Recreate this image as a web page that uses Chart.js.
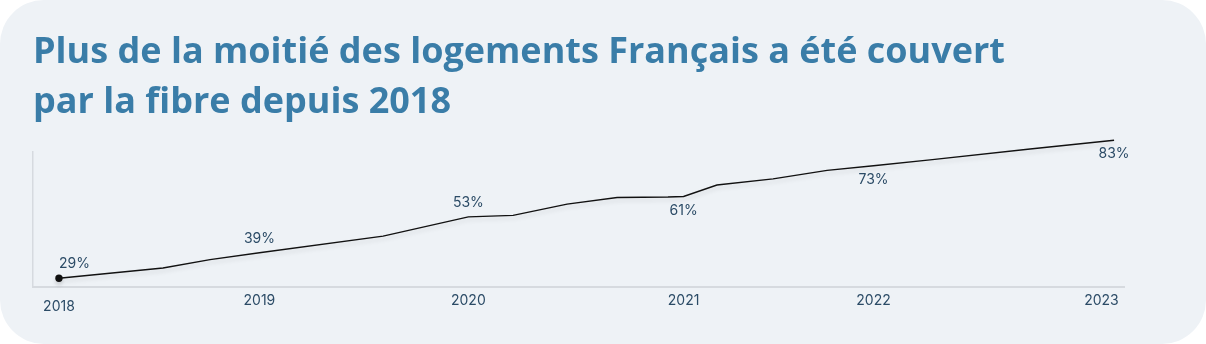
<!DOCTYPE html>
<html lang="fr">
<head>
<meta charset="utf-8">
<title>Couverture fibre</title>
<script src="https://cdn.jsdelivr.net/npm/chart.js@4/dist/chart.umd.min.js"></script>
<style>
  html, body { margin: 0; padding: 0; background: #ffffff; }
  #card {
    position: absolute;
    left: 0; top: 0;
    width: 1206px; height: 344px;
    background: #eef2f6;
    border-radius: 44px;
    overflow: hidden;
  }
  #fibreChart { display: block; }
</style>
</head>
<body>
<div id="card">
  <canvas id="fibreChart" width="1206" height="344"></canvas>
</div>
<script>
// share of French homes covered by fibre, as decimal years
const dates = [
  2018.0, 2018.493, 2018.716, 2018.95, 2019.536, 2019.94, 2020.152, 2020.408,
  2020.645, 2020.886, 2020.96, 2021.118, 2021.384, 2021.64, 2021.86,
  2022.128, 2022.602, 2023.0
];
const coverage = [
  29, 33, 36.3, 39, 45.5, 53, 53.6, 58,
  60.6, 60.8, 61, 65.5, 67.9, 71.2, 73,
  75.3, 79.6, 83
];

// year ticks on the bottom axis
const tickPositions = [2018.0, 2018.95, 2019.94, 2020.96, 2021.86, 2022.94];
const tickLabels = ["2018", "2019", "2020", "2021", "2022", "2023"];

// points that carry a percentage label
const labelDates = [2018.0, 2018.95, 2019.94, 2020.96, 2021.86, 2023.0];
const labelValues = [29, 39, 53, 61, 73, 83];

const titleLines = [
  "Plus de la moitié des logements Français a été couvert",
  "par la fibre depuis 2018",
];

const textColor = "#2b4b66";
const axisColor = "#d6dadf";

/**
 * soft shadow under the line
 */
const lineShadow = {
  id: "lineShadow",
  beforeDatasetsDraw: (chart) => {
    const ctx = chart.ctx;
    ctx.save();
    ctx.shadowColor = "rgba(0, 0, 0, 0.13)";
    ctx.shadowBlur = 4;
    ctx.shadowOffsetY = 3;
  },
  afterDatasetsDraw: (chart) => {
    chart.ctx.restore();
  },
};

/**
 * writes the percentage next to the labelled points,
 * above the line for the first half and below it afterwards
 */
const valueLabels = {
  id: "valueLabels",
  afterDatasetsDraw: (chart) => {
    const ctx = chart.ctx;
    const xScale = chart.scales.x;
    const yScale = chart.scales.y;
    ctx.save();
    ctx.font = "14px Inter";
    ctx.fillStyle = textColor;
    ctx.textBaseline = "middle";
    labelDates.forEach((d, i) => {
      const x = xScale.getPixelForValue(d);
      const y = yScale.getPixelForValue(labelValues[i]);
      const above = i < 3;
      ctx.textAlign = i === 0 ? "left" : "center";
      ctx.fillText(labelValues[i] + "%", x, above ? y - 14 : y + 14);
    });
    ctx.restore();
  },
};

const points = dates.map((d, i) => ({ x: d, y: coverage[i] }));

new Chart(document.getElementById("fibreChart"), {
  type: "line",
  data: {
    datasets: [
      {
        data: points,
        borderColor: "#111111",
        borderWidth: 1.4,
        backgroundColor: "#111111",
        tension: 0,
        clip: false,
        pointRadius: (c) =>
          c.dataIndex === 0 || c.dataIndex === points.length - 1 ? 3 : 0,
        pointHoverRadius: 0,
      },
    ],
  },
  options: {
    responsive: false,
    animation: false,
    events: [],
    layout: { padding: { left: 33, right: 82, top: 0, bottom: 18 } },
    plugins: {
      legend: { display: false },
      tooltip: { enabled: false },
      title: {
        display: true,
        text: titleLines,
        align: "start",
        color: "#3a7da8",
        font: { family: "Open Sans", weight: "700", size: 36, lineHeight: 50 / 36 },
        padding: { top: 28, bottom: 24 },
      },
    },
    scales: {
      x: {
        type: "linear",
        min: 2017.877,
        max: 2023.047,
        afterBuildTicks: (scale) => {
          scale.ticks = tickPositions.map((v) => ({ value: v }));
        },
        grid: { display: false, drawTicks: false },
        border: { display: true, color: axisColor, width: 2 },
        ticks: {
          padding: 6,
          color: textColor,
          maxRotation: 0,
          autoSkip: false,
          font: (c) => ({
            family: "Inter",
            size: 14,
            lineHeight: c.index === 0 ? 1.95 : 1.1,
          }),
          callback: (value, index) => tickLabels[index],
        },
      },
      y: {
        min: 25.7,
        max: 78.4,
        grid: { display: false, drawTicks: false },
        border: { display: true, color: axisColor, width: 1.5 },
        ticks: { display: false },
      },
    },
  },
  plugins: [lineShadow, valueLabels],
});
</script>
</body>
</html>
